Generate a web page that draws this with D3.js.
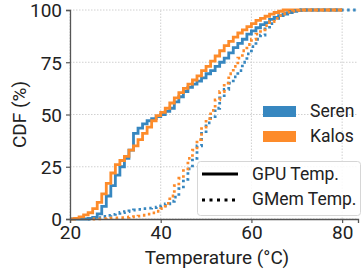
<!DOCTYPE html>
<html>
<head>
<meta charset="utf-8">
<script src="https://d3js.org/d3.v7.min.js"></script>
<style>
  body { margin: 0; background: white; font-family: Roboto, "DejaVu Sans", sans-serif; }
  svg text { fill: #222; }
</style>
</head>
<body>
<script>
// temperatures (degC), one per bin
var temps = d3.range(20, 84);
// CDF values (%), per integer temperature starting at 20
var serenGpu = [0,0,0,0,0.3,0.8,2.5,6,11,16,21,25,29,33,41,43.5,45.5,47,48,49,50,51.5,53,56,58.5,61,63,64.5,66,67.5,69.5,71,73,75,77,79.5,82,84,86,88.5,90,91.5,93,94,95.5,96.5,97.3,98,98.7,99.3,99.7,100];
var kalosGpu = [0,0.3,1,2,3,5,8,12,17,22,26,28,30,33,35,38,41,44,47,49.5,51,53,55.5,58,60.5,62.5,64.5,66.5,68.5,71,73,75.5,78,80.5,83,85,87,89,90.5,92,93.5,95,96,97,98,98.8,99.4,100];
var serenMem = [null,null,null,null,0,0.3,0.7,1.2,1.7,2.2,2.7,3.1,3.5,3.9,4.3,4.6,5,5.2,5.4,5.7,6.3,7.2,8.5,10.5,14.5,19,24,29,35,41,46,49,53,58,62,65,68,71,75,79,82.5,86,88,91,93.5,96,97.5,98.5,99.3,99.7,100];
var kalosMem = [null,null,null,null,null,0,0.1,0.2,0.3,0.4,0.5,0.6,0.8,1,1.1,1.4,1.8,2.3,2.9,3.7,5,7.5,11,16,19.5,24,29,33,38,44,48,52,57,61,65,69.5,73,77,80.5,83.5,86,88.5,90.5,92.5,94.5,96,97.3,98.2,99,99.5,99.8,100];
var serenEnd = 83.5, kalosEnd = 80, gpuEnd = 80;
var xTicks = [20, 40, 60, 80];
var yTicks = [0, 25, 50, 75, 100];
var groups = ["Seren", "Kalos"];
var metrics = ["GPU Temp.", "GMem Temp."];

var width = 362, height = 273;
var blue = "#3787c0", orange = "#fd8b2a";

var svg = d3.select("body").append("svg")
  .attr("width", width).attr("height", height);

var x = d3.scaleLinear().domain([20, 83.5]).range([70, 358]);
var y = d3.scaleLinear().domain([0, 100]).range([219, 10]);

// grid
var grid = svg.append("g");
grid.selectAll("line.gx").data(xTicks).enter().append("line")
  .attr("x1", d => x(d)).attr("x2", d => x(d))
  .attr("y1", y(0)).attr("y2", y(100))
  .attr("stroke", "#d0d0d0").attr("stroke-width", 1).attr("stroke-dasharray", "1.5,1.5");
grid.selectAll("line.gy").data(yTicks).enter().append("line")
  .attr("x1", x(20)).attr("x2", x(83.5))
  .attr("y1", d => y(d)).attr("y2", d => y(d))
  .attr("stroke", "#d0d0d0").attr("stroke-width", 1).attr("stroke-dasharray", "1.5,1.5");

// build series: pad to the end of the x range with 100
function series(vals, end) {
  var pts = [];
  vals.forEach(function(v, i) { if (v !== null) pts.push([temps[i], v]); });
  pts.push([end, 100]);
  return pts;
}

var line = d3.line()
  .x(d => x(d[0])).y(d => y(d[1]))
  .curve(d3.curveStepAfter);

var curves = [
  {pts: series(serenGpu, gpuEnd), color: blue, dash: null},
  {pts: series(kalosGpu, gpuEnd), color: orange, dash: null},
  {pts: series(serenMem, serenEnd), color: blue, dash: "2.5,3.5"},
  {pts: series(kalosMem, kalosEnd), color: orange, dash: "2.5,3.5"}
];
svg.append("g").selectAll("path").data(curves).enter().append("path")
  .attr("d", d => line(d.pts))
  .attr("fill", "none")
  .attr("stroke", d => d.color)
  .attr("stroke-width", 2.8)
  .attr("stroke-dasharray", d => d.dash);

// axes
var xAxis = svg.append("g").attr("transform", "translate(0," + y(0) + ")")
  .call(d3.axisBottom(x).tickValues(xTicks).tickSize(4).tickPadding(3));
var yAxis = svg.append("g").attr("transform", "translate(" + x(20) + ",0)")
  .call(d3.axisLeft(y).tickValues(yTicks).tickSize(4).tickPadding(4));
[xAxis, yAxis].forEach(function(a) {
  a.select(".domain").attr("stroke", "#555").attr("stroke-width", 1.3);
  a.selectAll(".tick line").attr("stroke", "#555").attr("stroke-width", 1.2);
  a.selectAll(".tick text").attr("font-size", 19).attr("fill", "#222")
    .attr("font-family", "Roboto");
});
yAxis.selectAll(".tick text").attr("dy", "0.36em");

svg.append("text").attr("x", (x(20) + x(83.5)) / 2 + 3).attr("y", 264)
  .attr("text-anchor", "middle").attr("font-size", 19).text("Temperature (°C)");
svg.append("text").attr("transform", "translate(26," + ((y(0) + y(100)) / 2) + ") rotate(-90)")
  .attr("text-anchor", "middle").attr("font-size", 19).text("CDF (%)");

// colour legend
var leg1 = svg.append("g");
leg1.selectAll("rect").data(groups).enter().append("rect")
  .attr("x", 263).attr("y", (d, i) => 106 + i * 25)
  .attr("width", 33).attr("height", 11)
  .attr("fill", (d, i) => i ? orange : blue);
leg1.selectAll("text").data(groups).enter().append("text")
  .attr("x", 310).attr("y", (d, i) => 117 + i * 25)
  .attr("font-size", 17.5).text(d => d);

// line style legend
var leg2 = svg.append("g");
leg2.append("rect").attr("x", 197.5).attr("y", 161.5).attr("width", 163).attr("height", 54)
  .attr("rx", 3).attr("fill", "white").attr("fill-opacity", 0.85)
  .attr("stroke", "#d6d6d6").attr("stroke-width", 1);
leg2.selectAll("line").data(metrics).enter().append("line")
  .attr("x1", 202).attr("x2", 238)
  .attr("y1", (d, i) => 174 + i * 26).attr("y2", (d, i) => 174 + i * 26)
  .attr("stroke", "black").attr("stroke-width", 2.8)
  .attr("stroke-dasharray", (d, i) => i ? "3,4.5" : null);
leg2.selectAll("text").data(metrics).enter().append("text")
  .attr("x", 252).attr("y", (d, i) => 180 + i * 25)
  .attr("font-size", 17.5).text(d => d);
</script>
</body>
</html>
